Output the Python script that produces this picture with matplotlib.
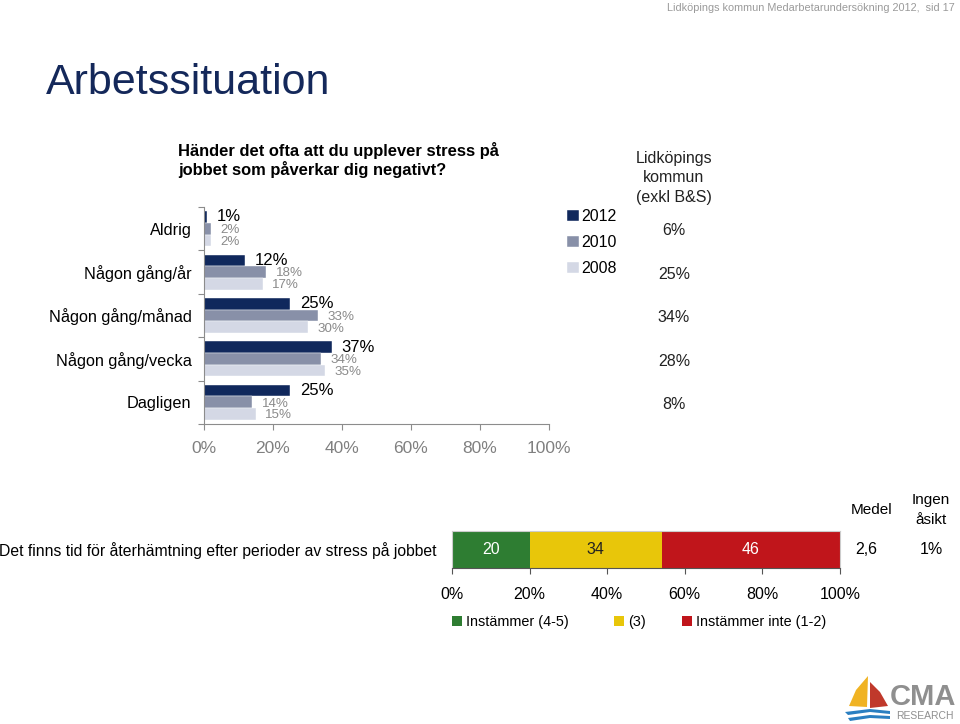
import matplotlib
matplotlib.use("Agg")
import matplotlib.pyplot as plt
from matplotlib.patches import Polygon
import numpy as np

plt.rcParams['font.family'] = ['Liberation Sans', 'DejaVu Sans']

# data - top chart
categories = ['Aldrig', 'Någon gång/år', 'Någon gång/månad', 'Någon gång/vecka', 'Dagligen']
years = ['2012', '2010', '2008']
v2012 = [1, 12, 25, 37, 25]
v2010 = [2, 18, 33, 34, 14]
v2008 = [2, 17, 30, 35, 15]
kommun = ['6%', '25%', '34%', '28%', '8%']

# data - bottom chart
statement = 'Det finns tid för återhämtning efter perioder av stress på jobbet'
seg_names = ['Instämmer (4-5)', '(3)', 'Instämmer inte (1-2)']
seg_values = [20, 34, 46]
medel = '2,6'
ingen_asikt = '1%'

W, H = 960, 724
fig = plt.figure(figsize=(W / 100, H / 100), dpi=100)

def fx(px):
    return px / W

def fy(py):
    return 1 - py / H

# header
fig.text(fx(955), fy(8), 'Lidköpings kommun Medarbetarundersökning 2012,  sid 17',
         ha='right', va='center', fontsize=7.8, color='#9a9a9a')
fig.text(fx(46), fy(83), 'Arbetssituation', ha='left', va='center',
         fontsize=31, color='#14285a')

# ---- top chart ----
ax = fig.add_axes([fx(204), fy(424), fx(549) - fx(204), (424 - 207) / H])
cols = ['#10285c', '#8890a8', '#d4d8e5']
series = [v2012, v2010, v2008]
bh = 0.27
y = np.arange(len(categories))
for i, (vals, c, yr) in enumerate(zip(series, cols, years)):
    yy = y + (i - 1) * bh
    ax.barh(yy, vals, height=bh, color=c, label=yr, edgecolor='white', linewidth=0.3)
    for yv, v in zip(yy, vals):
        if i == 0:
            ax.text(v + 2.8, yv, f'{v}%', va='center', ha='left', fontsize=12, color='black')
        else:
            ax.text(v + 2.8, yv + 0.03, f'{v}%', va='center', ha='left', fontsize=9.6,
                    color='#8a8a8a')

ax.set_xlim(0, 100)
ax.set_ylim(len(categories) - 0.5, -0.5)
ax.set_xticks(np.arange(0, 101, 20))
ax.set_xticklabels([f'{t}%' for t in range(0, 101, 20)], fontsize=12.5, color='#808080')
ax.set_yticks(np.arange(-0.5, len(categories), 1))
ax.set_yticklabels([])
ax.set_yticks(y, minor=True)
ax.set_yticklabels(categories, minor=True, fontsize=11.7)
ax.tick_params(axis='y', which='minor', length=0, pad=9)
ax.tick_params(axis='y', which='major', length=4, color='#8c8c8c')
ax.tick_params(axis='x', length=4, color='#8c8c8c', pad=8)
for s in ['top', 'right']:
    ax.spines[s].set_visible(False)
for s in ['left', 'bottom']:
    ax.spines[s].set_color('#8c8c8c')

fig.text(fx(178), fy(160), 'Händer det ofta att du upplever stress på\njobbet som påverkar dig negativt?',
         ha='left', va='center', fontsize=11.9, fontweight='bold', linespacing=1.2)

ax.legend(loc='upper left', bbox_to_anchor=(fx(553), fy(195)), bbox_transform=fig.transFigure,
          frameon=False, fontsize=11.5, handlelength=0.7, handleheight=0.7,
          handletextpad=0.2, labelspacing=0.68)

fig.text(fx(674), fy(178), 'Lidköpings\nkommun\n(exkl B&S)', ha='center', va='center',
         fontsize=11.5, linespacing=1.38, color='#222222')
for yi, k in zip(y, kommun):
    yd = ax.transData.transform((0, yi))[1]
    fig.text(fx(674), yd / H - 0.003, k, ha='center', va='center', fontsize=11.5, color='#222222')

# ---- bottom chart ----
bx = fig.add_axes([fx(452), fy(568), fx(840) - fx(452), (568 - 531) / H])
seg_cols = ['#2e7d32', '#e8c60a', '#c0151b']
txt_cols = ['white', '#222222', 'white']
bars = []
left = 0
for v, c, tc, name in zip(seg_values, seg_cols, txt_cols, seg_names):
    b = bx.barh(0, v, left=left, height=1, color=c, label=name)
    bars.append(b)
    bx.text(left + v / 2, 0, str(v), ha='center', va='center', fontsize=11.5, color=tc)
    left += v
bx.set_xlim(0, 100)
bx.set_ylim(-0.5, 0.5)
bx.set_yticks([0])
bx.set_yticklabels([statement], fontsize=11.3)
bx.tick_params(axis='y', length=0, pad=11)
bx.set_xticks(np.arange(0, 101, 20))
bx.set_xticklabels([f'{t}%' for t in range(0, 101, 20)], fontsize=11.5)
bx.tick_params(axis='x', length=4, color='#555555', pad=10)
for s in ['top', 'right', 'left']:
    bx.spines[s].set_color('#cccccc')
bx.spines['bottom'].set_color('#555555')

fig.text(fx(872), fy(510), 'Medel', ha='center', va='center', fontsize=11)
fig.text(fx(931), fy(510), 'Ingen\nåsikt', ha='center', va='center', fontsize=11,
         linespacing=1.6)
fig.text(fx(866), fy(550), medel, ha='center', va='center', fontsize=11.5)
fig.text(fx(931), fy(550), ingen_asikt, ha='center', va='center', fontsize=11.5)

# legend entries placed individually
for b, name, xpos in zip(bars, seg_names, [452, 614, 682]):
    fig.legend([b], [name], loc='center left', bbox_to_anchor=(fx(xpos), fy(622)),
               frameon=False, handlelength=0.7, handleheight=0.7, handletextpad=0.25,
               borderaxespad=0, borderpad=0, fontsize=10.4)

# ---- logo ----
def poly(pts, color):
    fig.add_artist(Polygon([(fx(a), fy(b)) for a, b in pts], closed=True,
                           transform=fig.transFigure, color=color, lw=0))

poly([(868, 676), (856, 690), (849, 706), (867, 707)], '#f0b323')
poly([(870, 682), (870, 708), (888, 706), (880, 692)], '#c0392b')
poly([(845, 712), (870, 709), (890, 711), (890, 714), (870, 712), (848, 715)], '#2a7fc1')
poly([(848, 718), (870, 715), (890, 716), (890, 719), (870, 718), (850, 721)], '#2a7fc1')
fig.text(fx(923), fy(697), 'CMA', ha='center', va='center', fontsize=21, fontweight='bold',
         color='#8f8f8f')
fig.text(fx(925), fy(716), 'RESEARCH', ha='center', va='center', fontsize=7.5,
         color='#8f8f8f')

fig.savefig('out.png', dpi=100)
